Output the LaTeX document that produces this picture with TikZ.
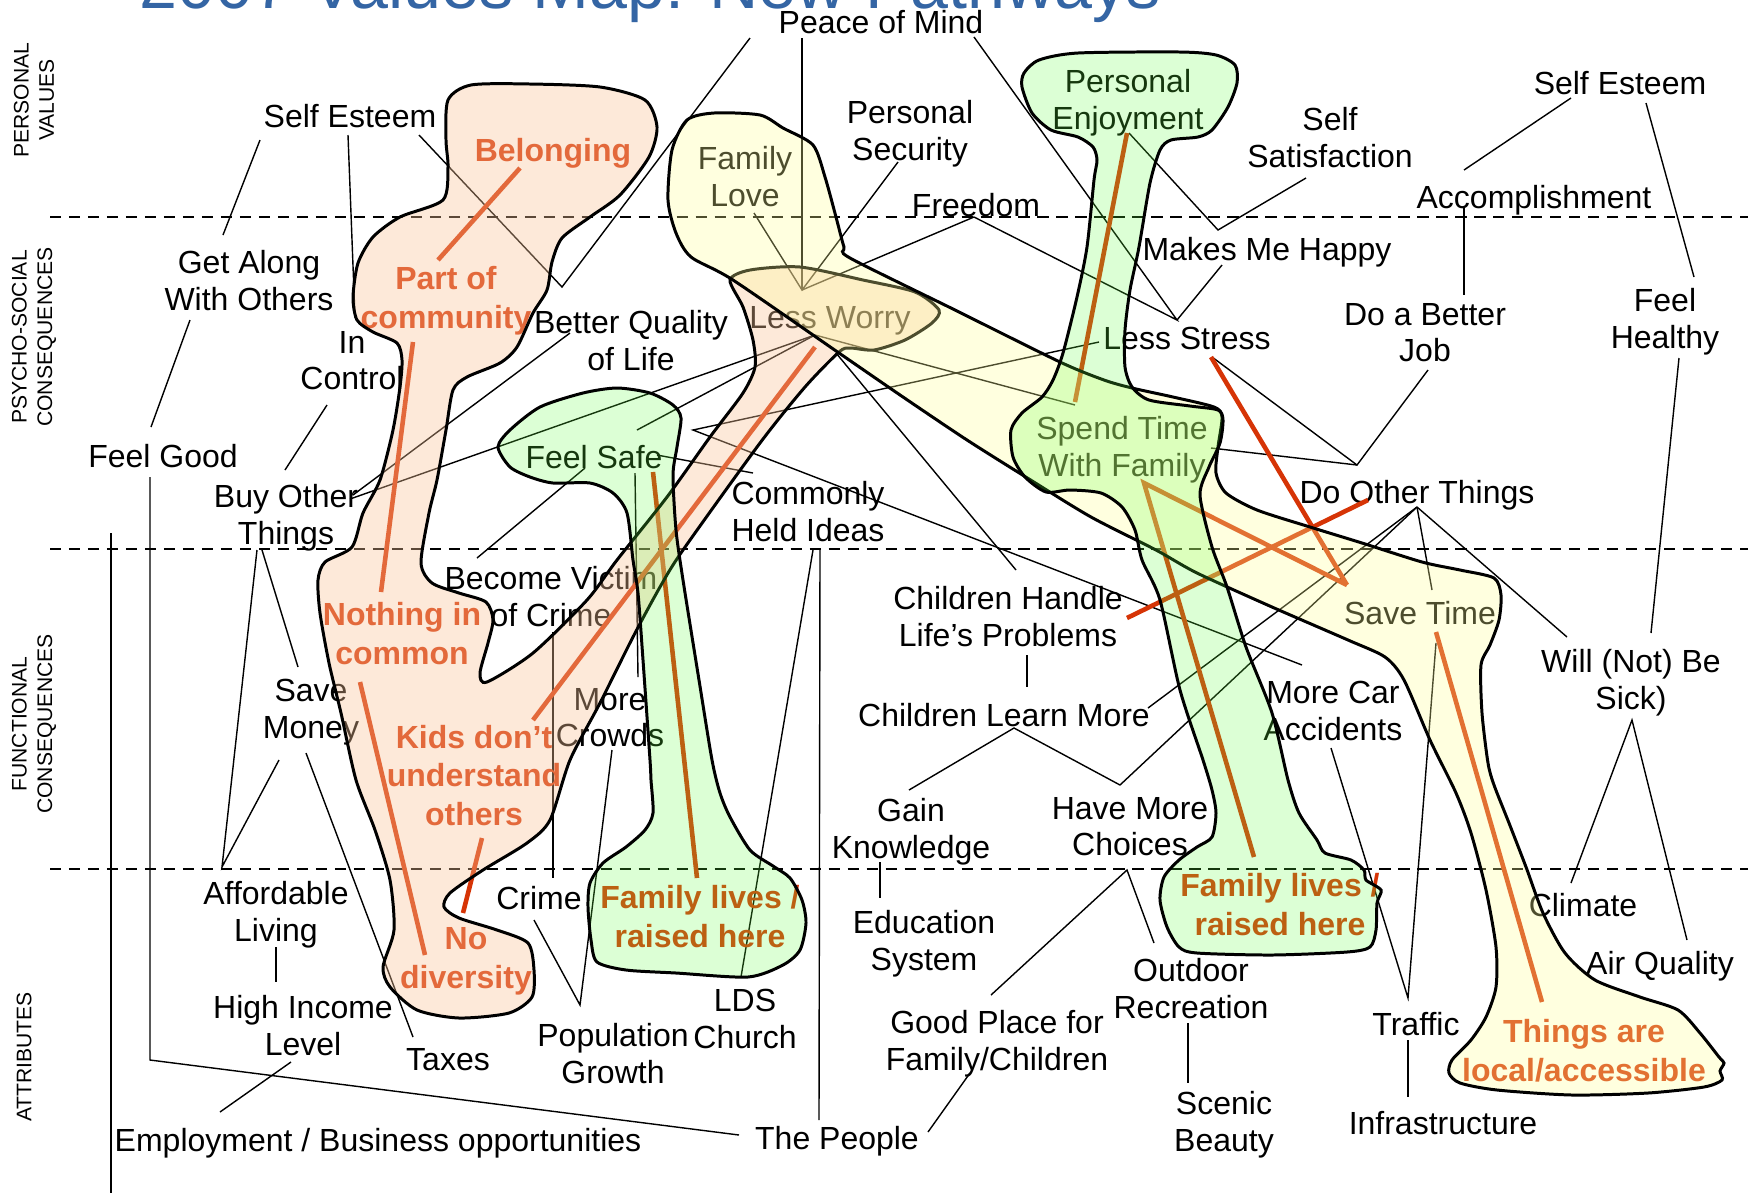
\documentclass[tikz,border=0pt]{standalone}
\usepackage{fontspec}
\setmainfont{Liberation Sans}
\definecolor{redline}{RGB}{214,52,6}
\definecolor{peachF}{RGB}{250,196,152}
\definecolor{yellowF}{RGB}{255,255,152}
\definecolor{greenF}{RGB}{100,255,64}
\definecolor{titleblue}{RGB}{52,101,164}
\newcommand{\lblfont}{\fontsize{9.1pt}{10.5pt}\selectfont}
\newcommand{\redfont}{\fontsize{9.1pt}{11pt}\selectfont\bfseries}
\newcommand{\axisfont}{\fontsize{6pt}{7.2pt}\selectfont}
\begin{document}
\begin{tikzpicture}[x=0.01cm,y=-0.01cm,
  lbl/.style={font=\lblfont,align=center,inner sep=0pt,yshift=-1.15pt,
    execute at begin node=\strut,execute at end node=\strut},
  redlbl/.style={lbl,font=\redfont,text=redline},
  axislbl/.style={font=\axisfont,align=center,inner sep=0pt,rotate=90},
  conn/.style={line width=0.4pt},
  redconn/.style={line width=1.3pt,draw=redline},
  divider/.style={line width=0.65pt,dash pattern=on 3.2pt off 2.2pt},
  blob/.style={line width=0.85pt,draw=black},
]
\useasboundingbox (0,0) rectangle (1748,1193);
\clip (0,0) rectangle (1748,1193);
\fill[white] (0,0) rectangle (1748,1193);

% heading, cut by the top edge
\node[anchor=base west,inner sep=0pt,font=\fontsize{19.4pt}{22pt}\selectfont,text=titleblue] (title) at (139,8) {2007 Values Map: New Pathways};

% level dividers and side captions
\draw[divider] (50,217) -- (1748,217);
\draw[divider] (50,549) -- (1748,549);
\draw[divider] (50,869) -- (1748,869);
\draw[conn] (111,533) -- (111,1193);
\node[axislbl] (ax-pv) at (34,100) {PERSONAL\\VALUES};
\node[axislbl] (ax-ps) at (34,337) {PSYCHO-SOCIAL\\CONSEQUENCES};
\node[axislbl] (ax-fc) at (34,724) {FUNCTIONAL\\CONSEQUENCES};
\node[axislbl] (ax-at) at (24,1057) {ATTRIBUTES};

% concept labels
\node[lbl] (pom) at (881,22) {Peace of Mind};
\node[lbl] (seL) at (350,116) {Self Esteem};
\node[lbl] (psec) at (910,132) {Personal\\Security};
\node[lbl] (flove) at (745,178) {Family\\Love};
\node[lbl] (free) at (976,205) {Freedom};
\node[lbl] (penj) at (1128,101) {Personal\\Enjoyment};
\node[lbl] (ssat) at (1330,139) {Self\\Satisfaction};
\node[lbl] (seR) at (1620,83) {Self Esteem};
\node[lbl] (accom) at (1534,197) {Accomplishment};
\node[lbl] (happy) at (1267,249) {Makes Me Happy};
\node[lbl] (lstress) at (1187,338) {Less Stress};
\node[lbl] (better) at (1425,334) {Do a Better\\Job};
\node[lbl] (health) at (1665,320) {Feel\\Healthy};
\node[lbl] (getal) at (249,282) {Get Along\\With Others};
\node[lbl] (inctl) at (352,362) {In\\Control};
\node[lbl] (bql) at (631,342) {Better Quality\\of Life};
\node[lbl] (lworry) at (830,317) {Less Worry};
\node[lbl] (fgood) at (163,456) {Feel Good};
\node[lbl] (buy) at (286,516) {Buy Other\\Things};
\node[lbl] (fsafe) at (594,457) {Feel Safe};
\node[lbl] (chi) at (808,513) {Commonly\\Held Ideas};
\node[lbl] (stime) at (1122,448) {Spend Time\\With Family};
\node[lbl] (dot) at (1417,492) {Do Other Things};
\node[lbl] (victim) at (551,598) {Become Victim\\of Crime};
\node[lbl] (handle) at (1008,618) {Children Handle\\Life’s Problems};
\node[lbl] (learn) at (1004,715) {Children Learn More};
\node[lbl] (savet) at (1420,613) {Save Time};
\node[lbl] (sick) at (1631,681) {Will (Not) Be\\Sick)};
\node[lbl] (acc) at (1333,712) {More Car\\Accidents};
\node[lbl] (savem) at (311,710) {Save\\Money};
\node[lbl] (crowds) at (610,719) {More\\Crowds};
\node[lbl] (gain) at (911,830) {Gain\\Knowledge};
\node[lbl] (choices) at (1130,828) {Have More\\Choices};
\node[lbl] (afford) at (276,913) {Affordable\\Living};
\node[lbl] (crime) at (539,898) {Crime};
\node[lbl] (edu) at (924,942) {Education\\System};
\node[lbl] (outdoor) at (1191,990) {Outdoor\\Recreation};
\node[lbl] (climate) at (1583,905) {Climate};
\node[lbl] (air) at (1660,963) {Air Quality};
\node[lbl] (income) at (303,1027) {High Income\\Level};
\node[lbl] (taxes) at (448,1059) {Taxes};
\node[lbl] (pop) at (613,1055) {Population\\Growth};
\node[lbl] (lds) at (745,1020) {LDS\\Church};
\node[lbl] (good) at (997,1042) {Good Place for\\Family/Children};
\node[lbl] (traffic) at (1416,1024) {Traffic};
\node[lbl] (scenic) at (1224,1123) {Scenic\\Beauty};
\node[lbl] (infra) at (1443,1123) {Infrastructure};
\node[lbl] (employ) at (378,1140) {Employment / Business opportunities};
\node[lbl] (people) at (837,1138) {The People};

% attachment points of the links
\coordinate (seL-a) at (260,140);   \coordinate (getal-n) at (223,235);
\coordinate (seL-b) at (348,135);   \coordinate (inctl-n) at (355,318);
\coordinate (seL-c) at (419,135);   \coordinate (bql-v) at (562,287);
\coordinate (pom-a) at (750,38);    \coordinate (pom-b) at (802,38);
\coordinate (pom-c) at (974,37);    \coordinate (lw-v) at (802,290);
\coordinate (flove-s) at (754,213); \coordinate (psec-s) at (898,162);
\coordinate (free-s) at (974,217);  \coordinate (ls-v) at (1177,320);
\coordinate (penj-s) at (1129,133); \coordinate (happy-v) at (1218,230);
\coordinate (ssat-s) at (1306,178); \coordinate (happy-s) at (1222,265);
\coordinate (seR-a) at (1571,98);   \coordinate (accom-n) at (1464,170);
\coordinate (seR-b) at (1646,103);  \coordinate (health-n) at (1694,277);
\coordinate (accom-s) at (1464,207);\coordinate (better-n) at (1464,295);
\coordinate (better-s) at (1428,370);\coordinate (dot-v) at (1357,465);
\coordinate (ls-s) at (1212,357);   \coordinate (stime-e) at (1211,448);
\coordinate (health-s) at (1679,358);\coordinate (sick-n) at (1651,633);
\coordinate (dot-s) at (1417,507);  \coordinate (savet-n) at (1432,590);
\coordinate (sick-nw) at (1567,637);\coordinate (learn-ne) at (1148,708);
\coordinate (choices-n) at (1120,785);\coordinate (savet-s) at (1436,643);
\coordinate (traffic-n) at (1408,998);\coordinate (acc-s) at (1331,748);
\coordinate (traffic-s) at (1408,1040);\coordinate (infra-n) at (1408,1097);
\coordinate (sick-s) at (1632,720); \coordinate (climate-n) at (1571,883);
\coordinate (air-n) at (1687,940);  \coordinate (buy-e1) at (353,495);
\coordinate (bql-s) at (570,333);   \coordinate (buy-e2) at (350,499);
\coordinate (lw-s) at (815,335);    \coordinate (fsafe-n) at (637,430);
\coordinate (stime-n) at (1075,405);\coordinate (fsafe-ne) at (693,430);
\coordinate (ls-w) at (1099,342);   \coordinate (acc-nw) at (1302,665);
\coordinate (fsafe-e) at (657,455); \coordinate (chi-nw) at (753,473);
\coordinate (fsafe-sw) at (585,468);\coordinate (victim-n) at (477,558);
\coordinate (victim-s) at (553,632);\coordinate (crime-n) at (553,878);
\coordinate (fsafe-s) at (635,473); \coordinate (crowds-n) at (638,677);
\coordinate (crowds-s) at (612,750);\coordinate (pop-n) at (580,1005);
\coordinate (crime-s) at (534,920);\coordinate (chi-s1) at (813,550);
\coordinate (lds-n) at (741,977);   \coordinate (chi-s2) at (820,550);
\coordinate (people-n) at (819,1120);\coordinate (lw-se) at (836,353);
\coordinate (handle-n) at (1016,570);\coordinate (handle-s) at (1027,655);
\coordinate (learn-n) at (1027,687);\coordinate (learn-s) at (1014,728);
\coordinate (gain-n) at (909,790);  \coordinate (gain-s) at (880,862);
\coordinate (edu-n) at (880,898);   \coordinate (choices-s) at (1127,870);
\coordinate (good-n) at (991,995);  \coordinate (outdoor-n) at (1154,943);
\coordinate (outdoor-s) at (1188,1023);\coordinate (scenic-n) at (1188,1083);
\coordinate (good-s) at (970,1073); \coordinate (people-ne) at (928,1132);
\coordinate (fgood-s) at (150,477); \coordinate (fgood-bend) at (150,1060);
\coordinate (people-w) at (739,1135);\coordinate (getal-s) at (190,320);
\coordinate (fgood-n) at (151,427); \coordinate (inctl-s) at (327,405);
\coordinate (buy-n) at (285,470);   \coordinate (buy-s1) at (257,550);
\coordinate (buy-s2) at (262,550);  \coordinate (afford-n) at (222,867);
\coordinate (savem-n) at (298,667); \coordinate (savem-sw) at (279,760);
\coordinate (savem-se) at (306,753);\coordinate (taxes-n) at (413,1037);
\coordinate (afford-s) at (276,947);\coordinate (income-n) at (276,982);
\coordinate (income-s) at (291,1062);\coordinate (employ-n) at (220,1112);

% thin links
\draw[conn] (seL-a) -- (getal-n);
\draw[conn] (seL-b) -- (inctl-n);
\draw[conn] (seL-c) -- (bql-v) -- (pom-a);
\draw[conn] (pom-b) -- (lw-v);
\draw[conn] (flove-s) -- (lw-v) -- (psec-s);
\draw[conn] (free-s) -- (lw-v);
\draw[conn] (free-s) -- (ls-v) -- (pom-c);
\draw[conn] (penj-s) -- (happy-v) -- (ssat-s);
\draw[conn] (happy-s) -- (ls-v);
\draw[conn] (seR-a) -- (accom-n);
\draw[conn] (seR-b) -- (health-n);
\draw[conn] (accom-s) -- (better-n);
\draw[conn] (better-s) -- (dot-v) -- (ls-s);
\draw[conn] (stime-e) -- (dot-v);
\draw[conn] (health-s) -- (sick-n);
\draw[conn] (dot-s) -- (savet-n);
\draw[conn] (dot-s) -- (sick-nw);
\draw[conn] (dot-s) -- (learn-ne);
\draw[conn] (dot-s) -- (choices-n);
\draw[conn] (savet-s) -- (traffic-n) -- (acc-s);
\draw[conn] (traffic-s) -- (infra-n);
\draw[conn] (climate-n) -- (sick-s) -- (air-n);
\draw[conn] (buy-e1) -- (bql-s);
\draw[conn] (buy-e2) -- (lw-s);
\draw[conn] (fsafe-n) -- (lw-s) -- (stime-n);
\draw[conn] (ls-w) -- (fsafe-ne) -- (acc-nw);
\draw[conn] (fsafe-e) -- (chi-nw);
\draw[conn] (fsafe-sw) -- (victim-n);
\draw[conn] (victim-s) -- (crime-n);
\draw[conn] (fsafe-s) -- (crowds-n);
\draw[conn] (crowds-s) -- (pop-n) -- (crime-s);
\draw[conn] (lds-n) -- (chi-s1);
\draw[conn] (people-n) -- (chi-s2);
\draw[conn] (lw-se) -- (handle-n);
\draw[conn] (handle-s) -- (learn-n);
\draw[conn] (gain-n) -- (learn-s) -- (choices-n);
\draw[conn] (gain-s) -- (edu-n);
\draw[conn] (good-n) -- (choices-s) -- (outdoor-n);
\draw[conn] (outdoor-s) -- (scenic-n);
\draw[conn] (good-s) -- (people-ne);
\draw[conn] (fgood-s) -- (fgood-bend) -- (people-w);
\draw[conn] (getal-s) -- (fgood-n);
\draw[conn] (inctl-s) -- (buy-n);
\draw[conn] (buy-s1) -- (afford-n) -- (savem-sw);
\draw[conn] (buy-s2) -- (savem-n);
\draw[conn] (savem-se) -- (taxes-n);
\draw[conn] (afford-s) -- (income-n);
\draw[conn] (income-s) -- (employ-n);

% pathway labels and links
\node[redlbl] (belong) at (553,150) {Belonging};
\node[redlbl] (partof) at (446,299) {Part of\\community};
\node[redlbl] (nothing) at (402,635) {Nothing in\\common};
\node[redlbl] (kids) at (474,777) {Kids don’t\\understand\\others};
\node[redlbl] (nodiv) at (466,960) {No\\diversity};
\node[redlbl] (flivesL) at (700,918) {Family lives /\\raised here};
\node[redlbl] (flivesR) at (1280,906) {Family lives /\\raised here};
\node[redlbl] (things) at (1584,1052) {Things are\\local/accessible};

\coordinate (belong-s) at (520,168);  \coordinate (partof-n) at (438,260);
\coordinate (partof-s) at (413,342);  \coordinate (nothing-n) at (381,592);
\coordinate (nothing-s) at (360,682); \coordinate (nodiv-w) at (425,955);
\coordinate (kids-s) at (482,838);    \coordinate (nodiv-n) at (463,913);
\coordinate (kids-n) at (533,720);    \coordinate (lw-r) at (815,347);
\coordinate (fsafe-r) at (653,472);   \coordinate (flivesL-n) at (697,878);
\coordinate (penj-r) at (1127,133);   \coordinate (stime-r) at (1075,402);
\coordinate (stime-v) at (1144,483);  \coordinate (flivesR-n) at (1254,857);
\coordinate (savet-r) at (1347,585);  \coordinate (ls-r) at (1211,357);
\coordinate (dot-r) at (1368,500);    \coordinate (handle-e) at (1127,618);
\coordinate (savet-s2) at (1436,632); \coordinate (things-n) at (1542,1002);

\draw[redconn] (belong-s) -- (partof-n);
\draw[redconn] (partof-s) -- (nothing-n);
\draw[redconn] (nothing-s) -- (nodiv-w);
\draw[redconn] (kids-s) -- (nodiv-n);
\draw[redconn] (kids-n) -- (lw-r);
\draw[redconn] (fsafe-r) -- (flivesL-n);
\draw[redconn] (penj-r) -- (stime-r);
\draw[redconn] (flivesR-n) -- (stime-v) -- (savet-r);
\draw[redconn] (ls-r) -- (savet-r);
\draw[redconn] (dot-r) -- (handle-e);
\draw[redconn] (savet-s2) -- (things-n);

% translucent pathway regions
\filldraw[blob,fill=peachF,fill opacity=.37] plot[smooth cycle,tension=.45] coordinates {
 (448,100) (471,85) (530,84) (600,87) (645,100) (657,127) (649,157) (620,195) (590,217)
 (562,238) (552,262) (547,290) (533,313) (517,347) (500,363) (467,377) (453,390) (446,430)
 (437,480) (429,513) (421,563) (432,583) (459,593) (486,602) (493,620) (488,643) (480,673)
 (487,682) (533,653) (587,600) (617,560) (667,497) (710,437) (743,393) (755,367) (753,340)
 (743,307) (730,280) (750,270) (800,267) (863,280) (915,292) (939,310) (932,323) (905,340)
 (874,350) (850,348) (839,352) (805,387) (760,443) (683,550) (660,587) (633,637) (600,703)
 (570,760) (550,820) (527,843) (483,870) (450,893) (444,907) (459,918) (497,930) (528,943)
 (534,970) (532,997) (509,1013) (459,1018) (417,1010) (390,987) (383,967) (394,930) (390,880)
 (375,830) (356,780) (341,713) (329,663) (320,613) (318,580) (325,562) (352,547) (363,513)
 (380,480) (393,430) (400,387) (402,360) (397,343) (373,332) (357,320) (353,297) (358,263)
 (373,237) (400,217) (443,200) (448,167) (446,140)};

\filldraw[blob,fill=yellowF,fill opacity=.30] plot[smooth cycle,tension=.45] coordinates {
 (687,120) (714,113) (760,115) (783,128) (813,145) (825,177) (836,217) (844,247) (850,258)
 (955,310) (1060,362) (1104,380) (1132,388) (1173,397) (1214,407) (1222,417) (1218,447)
 (1216,473) (1226,493) (1257,510) (1310,527) (1362,543) (1422,562) (1460,570) (1494,578)
 (1501,595) (1499,620) (1490,645) (1481,665) (1482,713) (1488,763) (1494,785) (1509,823)
 (1526,867) (1543,913) (1565,953) (1595,980) (1640,997) (1678,1010) (1700,1033) (1719,1057)
 (1724,1063) (1720,1071) (1722,1080) (1704,1087) (1648,1093) (1572,1095) (1497,1090)
 (1460,1083) (1449,1073) (1452,1060) (1471,1040) (1486,1017) (1496,987) (1496,947)
 (1486,890) (1471,833) (1456,793) (1430,740) (1404,680) (1385,657) (1348,640) (1272,607)
 (1197,573) (1156,550) (1091,517) (1029,479) (967,440) (903,397) (839,353) (733,280)
 (691,257) (676,233) (668,200) (672,150)};

\filldraw[blob,fill=greenF,fill opacity=.22] plot[smooth cycle,tension=.45] coordinates {
 (498,447) (510,430) (540,407) (583,393) (617,388) (650,393) (673,405) (681,418) (677,447)
 (673,475) (676,530) (683,580) (699,680) (712,760) (720,793) (730,817) (750,850) (773,866)
 (790,878) (802,900) (806,923) (800,950) (783,965) (748,977) (676,973) (626,970) (597,962)
 (591,940) (588,907) (590,883) (603,863) (626,847) (645,830) (653,813) (651,780) (650,760)
 (643,660) (638,593) (633,560) (627,513) (613,493) (590,483) (553,483) (530,477) (510,467)};

\filldraw[blob,fill=greenF,fill opacity=.22] plot[smooth cycle,tension=.45] coordinates {
 (1024,73) (1039,60) (1078,53) (1180,52) (1216,55) (1235,65) (1237,83) (1228,107) (1212,130)
 (1198,137) (1171,140) (1160,150) (1150,183) (1139,247) (1130,290) (1125,330) (1125,367)
 (1132,387) (1149,400) (1190,406) (1218,410) (1223,420) (1220,443) (1209,467) (1200,495)
 (1212,547) (1227,587) (1246,647) (1272,713) (1288,780) (1299,813) (1317,840) (1325,853)
 (1351,860) (1364,870) (1366,880) (1381,890) (1377,903) (1376,930) (1370,947) (1347,952)
 (1272,955) (1197,953) (1179,947) (1167,927) (1160,900) (1164,877) (1179,860) (1197,847)
 (1212,837) (1216,813) (1212,790) (1203,760) (1180,690) (1160,600) (1142,560) (1135,530)
 (1122,507) (1101,493) (1070,490) (1046,492) (1025,477) (1013,457) (1011,430) (1022,413)
 (1042,397) (1053,380) (1063,353) (1077,297) (1087,247) (1094,180) (1097,160) (1093,147)
 (1078,137) (1051,130) (1032,113) (1022,87)};
\end{tikzpicture}
\end{document}
